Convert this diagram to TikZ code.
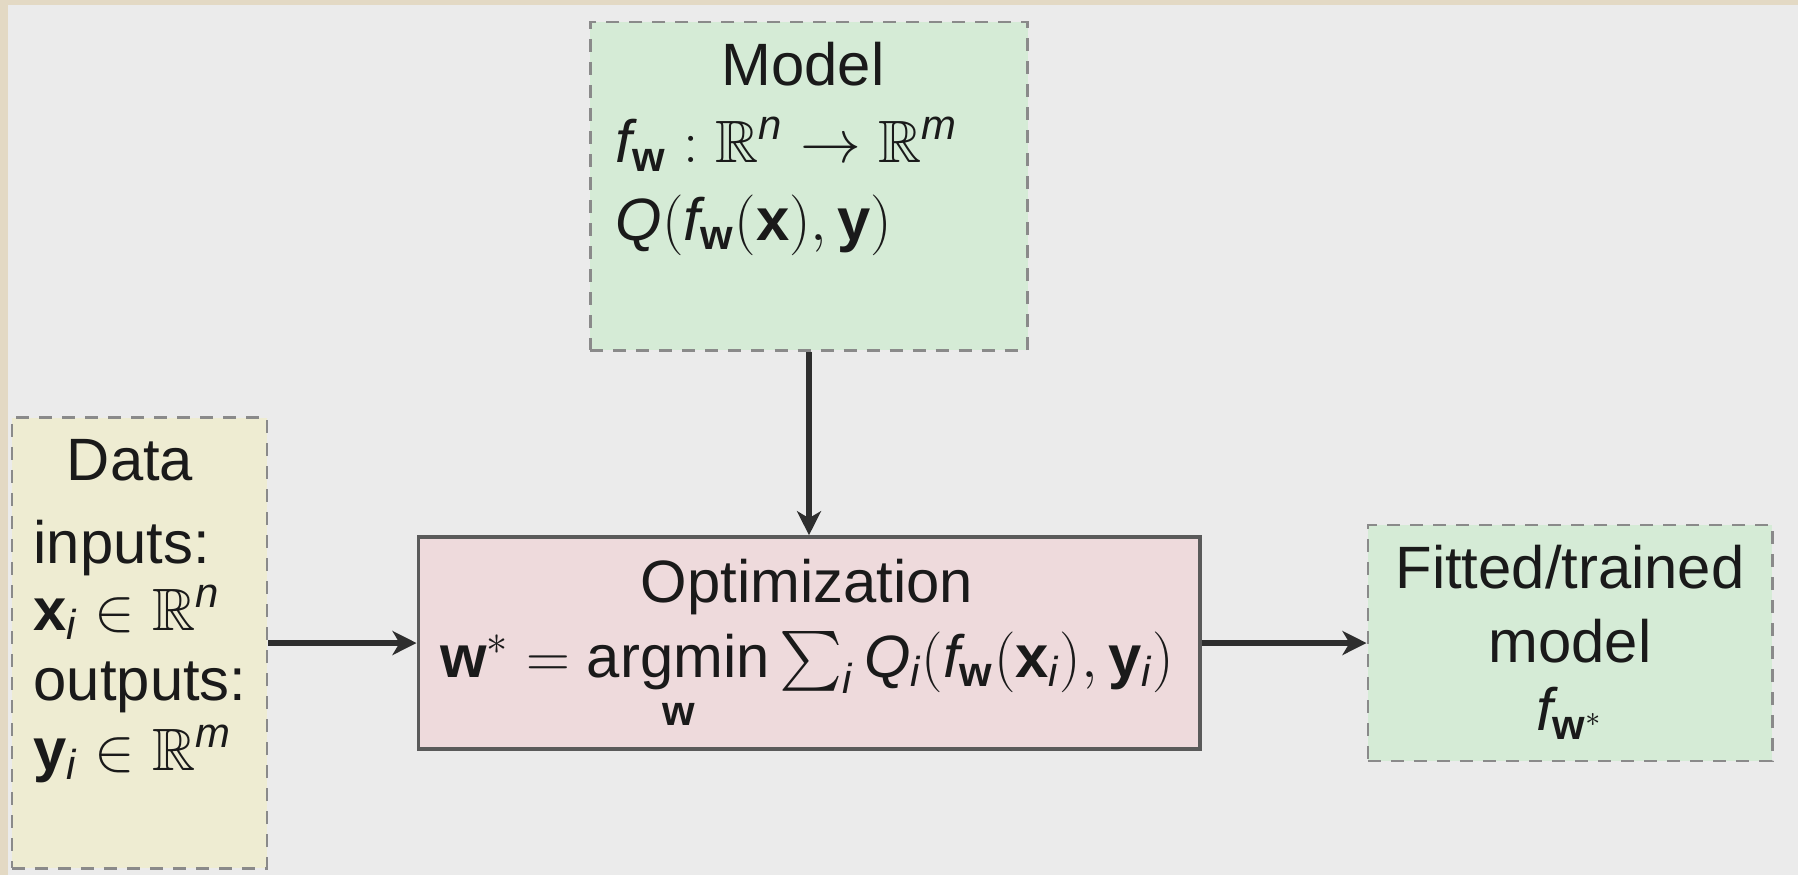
\documentclass[tikz,border=0pt]{standalone}
\usepackage{amsmath,amssymb}
\usepackage{fontspec}
\setmainfont{Liberation Sans}
\usetikzlibrary{arrows.meta, positioning}

\definecolor{frameclr}{HTML}{E3D9C4}
\definecolor{panelclr}{HTML}{EBEBEB}
\definecolor{greenfill}{HTML}{D5EBD6}
\definecolor{yellowfill}{HTML}{EEECD2}
\definecolor{pinkfill}{HTML}{EEDADC}
\definecolor{dashclr}{HTML}{8A8A8A}
\definecolor{solidclr}{HTML}{5A5A5A}
\definecolor{ink}{HTML}{1A1A1A}
\definecolor{arrclr}{HTML}{2E2E2E}

\newcommand{\vw}{\mathbf{w}}
\newcommand{\vx}{\mathbf{x}}
\newcommand{\vy}{\mathbf{y}}

\begin{document}
\begin{tikzpicture}[
    x=0.01cm, y=-0.01cm,
    dbox/.style={draw=dashclr, line width=0.8pt, dash pattern=on 0.13cm off 0.1cm, inner sep=0pt},
    greenbox/.style={dbox, fill=greenfill},
    yellowbox/.style={dbox, fill=yellowfill},
    optbox/.style={draw=solidclr, line width=1pt, fill=pinkfill, inner sep=0pt},
    txt/.style={inner sep=0pt, text=ink, font=\fontsize{17}{21}\selectfont},
    arr/.style={-{Stealth[length=0.24cm, width=0.24cm, inset=0.07cm]}, line width=1.8pt, draw=arrclr},
]

% background with frame
\useasboundingbox (0,0) rectangle (1798,875);
\fill[frameclr] (0,0) rectangle (1798,875);
\fill[panelclr] (8,5) rectangle (1798,875);

% boxes
\node[greenbox, minimum width=4.37cm, minimum height=3.28cm] (model) at (809,186) {};
\node[yellowbox, minimum width=2.55cm, minimum height=4.50cm] (data) at (139.5,643) {};
\node[optbox, minimum width=7.81cm, minimum height=2.12cm] (opt) at (809,643) {};
\node[greenbox, minimum width=4.04cm, minimum height=2.36cm] (fitted) at (1570,643) {};

% model text
\node[txt, anchor=base] (modeltitle) at (803,85) {Model};
\node[txt, anchor=base west] (modelmap) at (615,162)
    {$\mathit{f}_{\vw} : \mathbb{R}^{\mathit{n}} \to \mathbb{R}^{\mathit{m}}$};
\node[txt, anchor=base west] (modelloss) at (615,240)
    {$\mathit{Q}(\mathit{f}_{\vw}(\vx), \vy)$};

% data text
\node[txt, anchor=base] (datatitle) at (130,480) {Data};
\node[txt, anchor=base west] (datain) at (33,563) {inputs:};
\node[txt, anchor=base west] (datax) at (33,630) {$\vx_{\mathit{i}} \in \mathbb{R}^{\mathit{n}}$};
\node[txt, anchor=base west] (dataout) at (33,700) {outputs:};
\node[txt, anchor=base west] (datay) at (33,770) {$\vy_{\mathit{i}} \in \mathbb{R}^{\mathit{m}}$};

% optimization text
\node[txt, anchor=base] (opttitle) at (807,602) {Optimization};
\node[txt, anchor=base] (optformula) at (807,677)
    {$\vw^{*} = \mathop{\mathrm{argmin}}\limits_{\vw} \sum\nolimits_{\mathit{i}} \mathit{Q}_{\mathit{i}}(\mathit{f}_{\vw}(\vx_{\mathit{i}}), \vy_{\mathit{i}})$};

% fitted text
\node[txt, anchor=base] (fittitle) at (1570,588) {Fitted/trained};
\node[txt, anchor=base] (fitmodel) at (1570,662) {model};
\node[txt, anchor=base] (fitf) at (1570,730) {$\mathit{f}_{\vw^{*}}$};

% arrows
\draw[arr] (model) -- (opt);
\draw[arr] (data) -- (opt);
\draw[arr] (opt) -- (fitted);

\end{tikzpicture}
\end{document}
